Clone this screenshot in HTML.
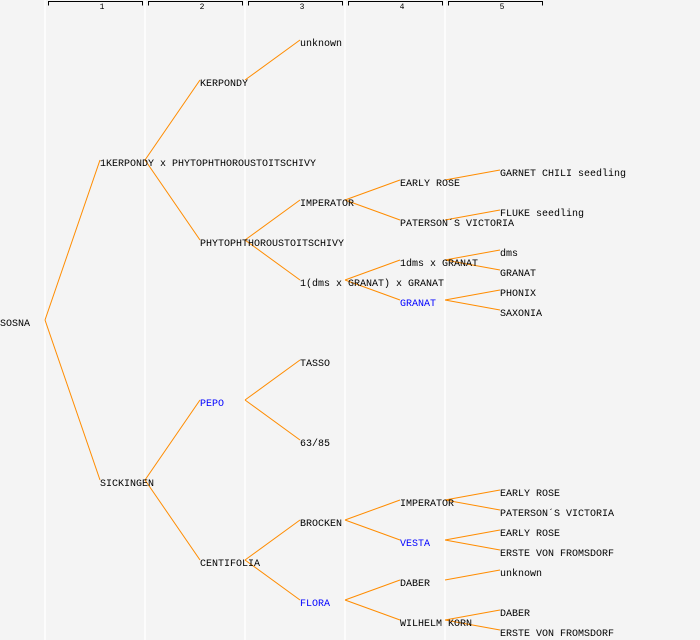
<!DOCTYPE html>
<html><head><meta charset="utf-8"><style>
html,body{margin:0;padding:0;background:#f4f4f4}
svg{display:block}
text{font-family:"Liberation Mono",monospace;font-size:10px;fill:#000}
.b{fill:#0000ff}
.h{font-size:8px}
</style></head><body>
<svg width="700" height="640" viewBox="0 0 700 640" xmlns="http://www.w3.org/2000/svg">
<rect width="700" height="640" fill="#f4f4f4"/>
<g stroke="#fff" stroke-width="1.5">
<line x1="45" y1="0" x2="45" y2="640"/><line x1="145" y1="0" x2="145" y2="640"/><line x1="245" y1="0" x2="245" y2="640"/><line x1="345" y1="0" x2="345" y2="640"/><line x1="445" y1="0" x2="445" y2="640"/>
</g>
<g stroke="#000" fill="none" stroke-width="1">
<path d="M48.5 5.5V1.5H142.5V5.5"/><path d="M148.5 5.5V1.5H242.5V5.5"/><path d="M248.5 5.5V1.5H342.5V5.5"/><path d="M348.5 5.5V1.5H442.5V5.5"/><path d="M448.5 5.5V1.5H542.5V5.5"/>
</g>
<g class="h" text-anchor="middle">
<text class="h" x="102" y="9">1</text><text class="h" x="202" y="9">2</text><text class="h" x="302" y="9">3</text><text class="h" x="402" y="9">4</text><text class="h" x="502" y="9">5</text>
</g>
<g stroke="#ff8c00" stroke-width="1" fill="none">
<line x1="45" y1="320" x2="100" y2="160"/>
<line x1="45" y1="320" x2="100" y2="480"/>
<line x1="145" y1="160" x2="200" y2="80"/>
<line x1="145" y1="160" x2="200" y2="240"/>
<line x1="245" y1="80" x2="300" y2="40"/>
<line x1="245" y1="240" x2="300" y2="200"/>
<line x1="245" y1="240" x2="300" y2="280"/>
<line x1="345" y1="200" x2="400" y2="180"/>
<line x1="345" y1="200" x2="400" y2="220"/>
<line x1="445" y1="180" x2="500" y2="170"/>
<line x1="445" y1="220" x2="500" y2="210"/>
<line x1="345" y1="280" x2="400" y2="260"/>
<line x1="345" y1="280" x2="400" y2="300"/>
<line x1="445" y1="260" x2="500" y2="250"/>
<line x1="445" y1="260" x2="500" y2="270"/>
<line x1="445" y1="300" x2="500" y2="290"/>
<line x1="445" y1="300" x2="500" y2="310"/>
<line x1="145" y1="480" x2="200" y2="400"/>
<line x1="145" y1="480" x2="200" y2="560"/>
<line x1="245" y1="400" x2="300" y2="360"/>
<line x1="245" y1="400" x2="300" y2="440"/>
<line x1="245" y1="560" x2="300" y2="520"/>
<line x1="245" y1="560" x2="300" y2="600"/>
<line x1="345" y1="520" x2="400" y2="500"/>
<line x1="345" y1="520" x2="400" y2="540"/>
<line x1="445" y1="500" x2="500" y2="490"/>
<line x1="445" y1="500" x2="500" y2="510"/>
<line x1="445" y1="540" x2="500" y2="530"/>
<line x1="445" y1="540" x2="500" y2="550"/>
<line x1="345" y1="600" x2="400" y2="580"/>
<line x1="345" y1="600" x2="400" y2="620"/>
<line x1="445" y1="580" x2="500" y2="570"/>
<line x1="445" y1="620" x2="500" y2="610"/>
<line x1="445" y1="620" x2="500" y2="630"/>
</g>
<text x="0" y="326">SOSNA</text>
<text x="100" y="166">1KERPONDY x PHYTOPHTHOROUSTOITSCHIVY</text>
<text x="100" y="486">SICKINGEN</text>
<text x="200" y="86">KERPONDY</text>
<text x="200" y="246">PHYTOPHTHOROUSTOITSCHIVY</text>
<text x="300" y="46">unknown</text>
<text x="300" y="206">IMPERATOR</text>
<text x="300" y="286">1(dms x GRANAT) x GRANAT</text>
<text x="400" y="186">EARLY ROSE</text>
<text x="400" y="226">PATERSON´S VICTORIA</text>
<text x="500" y="176">GARNET CHILI seedling</text>
<text x="500" y="216">FLUKE seedling</text>
<text x="400" y="266">1dms x GRANAT</text>
<text class="b" x="400" y="306">GRANAT</text>
<text x="500" y="256">dms</text>
<text x="500" y="276">GRANAT</text>
<text x="500" y="296">PHONIX</text>
<text x="500" y="316">SAXONIA</text>
<text class="b" x="200" y="406">PEPO</text>
<text x="200" y="566">CENTIFOLIA</text>
<text x="300" y="366">TASSO</text>
<text x="300" y="446">63/85</text>
<text x="300" y="526">BROCKEN</text>
<text class="b" x="300" y="606">FLORA</text>
<text x="400" y="506">IMPERATOR</text>
<text class="b" x="400" y="546">VESTA</text>
<text x="400" y="586">DABER</text>
<text x="400" y="626">WILHELM KORN</text>
<text x="500" y="496">EARLY ROSE</text>
<text x="500" y="516">PATERSON´S VICTORIA</text>
<text x="500" y="536">EARLY ROSE</text>
<text x="500" y="556">ERSTE VON FROMSDORF</text>
<text x="500" y="576">unknown</text>
<text x="500" y="616">DABER</text>
<text x="500" y="636">ERSTE VON FROMSDORF</text>
</svg>
</body></html>
